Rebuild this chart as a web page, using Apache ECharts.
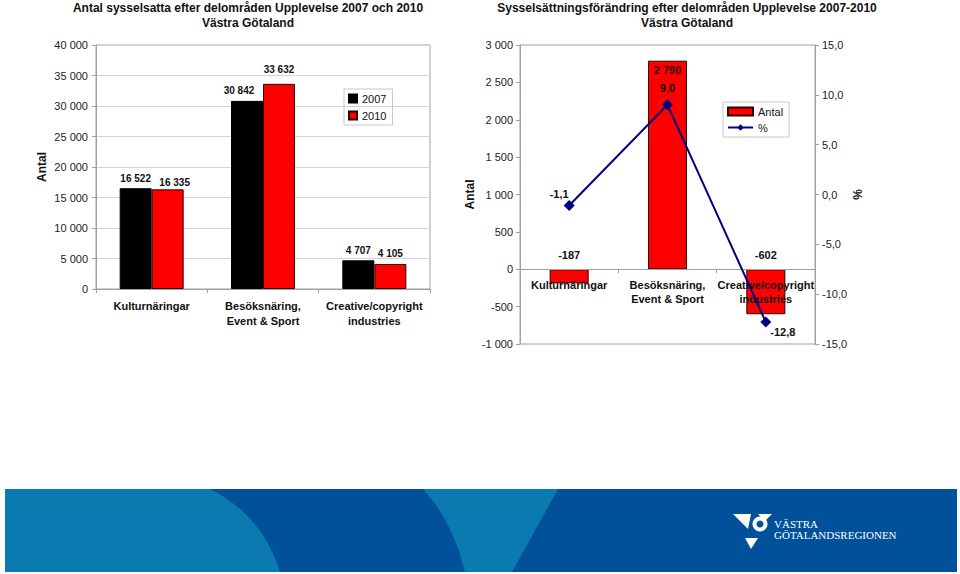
<!DOCTYPE html>
<html>
<head>
<meta charset="utf-8">
<script src="https://cdn.jsdelivr.net/npm/echarts@6/dist/echarts.min.js"></script>
<style>
html,body{margin:0;padding:0;background:#fff;}
#main{width:960px;height:574px;}
</style>
</head>
<body>
<div id="main"></div>
<script>
// ---- data ----
const categories = ['Kulturnäringar', 'Besöksnäring,\nEvent & Sport', 'Creative/copyright\nindustries'];
const employed2007 = [16522, 30842, 4707];
const employed2010 = [16335, 33632, 4105];
const changeCount = [-187, 2790, -602];
const changePct = [-1.1, 9.0, -12.8];
const leftAxis = {min: 0, max: 40000, interval: 5000};
const rightCountAxis = {min: -1000, max: 3000, interval: 500};
const rightPctAxis = {min: -15, max: 15, interval: 5};

// ---- helpers ----
const FONT = 'Liberation Sans, Arial, sans-serif';
function thou(v) { return String(v).replace(/\B(?=(\d{3})+(?!\d))/g, ' '); }
function pct(v) { return Number(v).toFixed(1).replace('.', ','); }
const tickText = {fontFamily: FONT, fontSize: 11, color: '#222'};
const catText = {fontFamily: FONT, fontSize: 11, fontWeight: 'bold', color: '#111', lineHeight: 15};

// right grid geometry; the category axis sits on the zero line of the count axis
const rightGrid = {left: 520, top: 45, width: 295, height: 299};
const zeroOffset = -rightGrid.height * (0 - rightCountAxis.min) / (rightCountAxis.max - rightCountAxis.min);

// decorative banner curve helper (quadratic bezier sampled)
function quad(p0, c, p1, n) {
  const pts = [];
  for (let i = 0; i <= n; i++) {
    const t = i / n, a = (1 - t) * (1 - t), b = 2 * (1 - t) * t, d = t * t;
    pts.push([a * p0[0] + b * c[0] + d * p1[0], a * p0[1] + b * c[1] + d * p1[1]]);
  }
  return pts;
}
const bannerLeft = [[5, 489]].concat(quad([210, 489], [262, 515], [280, 572], 20)).concat([[5, 572]]);
const bannerMid = [[558, 489], [512, 572]].concat(quad([465, 572], [452, 520], [423, 489], 20));

// label placement tweaks (layout only)
const label2007Offsets = [[0, 0], [-8, 0], [0, 0]];
const label2010Offsets = [[7, 3], [0, -4], [0, 0]];
const pctLabelCfg = [
  {position: 'top', offset: [-10, 5]},
  {position: 'top', offset: [0, -1]},
  {position: 'bottom', offset: [17, -6]}
];

const chart = echarts.init(document.getElementById('main'), null, {renderer: 'svg'});
chart.setOption({
  animation: false,
  backgroundColor: '#fff',
  title: [
    {text: 'Antal sysselsatta efter delområden Upplevelse 2007 och 2010\nVästra Götaland',
     left: 248, top: 0, textAlign: 'center', padding: 0,
     textStyle: {fontFamily: FONT, fontSize: 12, fontWeight: 'bold', color: '#111', lineHeight: 15}},
    {text: 'Sysselsättningsförändring efter delområden Upplevelse 2007-2010\nVästra Götaland',
     left: 687, top: 0, textAlign: 'center', padding: 0,
     textStyle: {fontFamily: FONT, fontSize: 12, fontWeight: 'bold', color: '#111', lineHeight: 15}}
  ],
  legend: [
    {data: ['2007', '2010'], orient: 'vertical', left: 344, top: 89,
     itemWidth: 8, itemHeight: 8, itemGap: 6, icon: 'rect',
     borderColor: '#c8c8c8', borderWidth: 1, padding: [4, 6, 4, 4],
     textStyle: {fontFamily: FONT, fontSize: 11, color: '#111'}},
    {data: [{name: 'Antal', icon: 'rect'}, {name: '%'}], orient: 'vertical', left: 723, top: 102,
     itemWidth: 25, itemHeight: 8, itemGap: 5,
     borderColor: '#c8c8c8', borderWidth: 1, padding: [4, 6, 4, 4],
     textStyle: {fontFamily: FONT, fontSize: 11, color: '#111'}}
  ],
  grid: [
    {left: 96, top: 45, width: 334, height: 244, show: true, borderColor: '#a0a0a0', borderWidth: 1, containLabel: false},
    Object.assign({show: true, borderColor: '#a0a0a0', borderWidth: 1, containLabel: false}, rightGrid)
  ],
  xAxis: [
    {type: 'category', gridIndex: 0, data: categories,
     axisLine: {lineStyle: {color: '#a0a0a0'}},
     axisTick: {show: true, length: 4, lineStyle: {color: '#a0a0a0'}},
     axisLabel: Object.assign({margin: 9, interval: 0}, catText)},
    {type: 'category', gridIndex: 1, data: categories, z: 2, position: 'bottom', offset: zeroOffset,
     axisLine: {onZero: false, lineStyle: {color: '#a0a0a0'}},
     axisTick: {show: true, length: 4, lineStyle: {color: '#a0a0a0'}},
     axisLabel: Object.assign({margin: 9, interval: 0}, catText, {lineHeight: 14})}
  ],
  yAxis: [
    {type: 'value', gridIndex: 0, min: leftAxis.min, max: leftAxis.max, interval: leftAxis.interval,
     name: 'Antal', nameLocation: 'middle', nameRotate: 90, nameGap: 48,
     nameTextStyle: {fontFamily: FONT, fontSize: 12, fontWeight: 'bold', color: '#111'},
     axisLine: {show: true, lineStyle: {color: '#a0a0a0'}},
     axisTick: {show: true, length: 4, lineStyle: {color: '#a0a0a0'}},
     splitLine: {show: true, lineStyle: {color: '#d4d4d4'}},
     axisLabel: Object.assign({margin: 8, formatter: thou}, tickText)},
    {type: 'value', gridIndex: 1, position: 'left', min: rightCountAxis.min, max: rightCountAxis.max, interval: rightCountAxis.interval,
     name: 'Antal', nameLocation: 'middle', nameRotate: 90, nameGap: 44,
     nameTextStyle: {fontFamily: FONT, fontSize: 12, fontWeight: 'bold', color: '#111'},
     axisLine: {show: true, lineStyle: {color: '#a0a0a0'}},
     axisTick: {show: true, length: 4, lineStyle: {color: '#a0a0a0'}},
     splitLine: {show: false},
     axisLabel: Object.assign({margin: 7, formatter: thou}, tickText)},
    {type: 'value', gridIndex: 1, position: 'right', min: rightPctAxis.min, max: rightPctAxis.max, interval: rightPctAxis.interval,
     name: '%', nameLocation: 'middle', nameRotate: 90, nameGap: 37,
     nameTextStyle: {fontFamily: FONT, fontSize: 12, fontWeight: 'bold', color: '#111'},
     axisLine: {show: true, lineStyle: {color: '#a0a0a0'}},
     axisTick: {show: true, length: 4, lineStyle: {color: '#a0a0a0'}},
     splitLine: {show: false},
     axisLabel: Object.assign({margin: 7, formatter: pct}, tickText)}
  ],
  series: [
    {name: '2007', type: 'bar', xAxisIndex: 0, yAxisIndex: 0,
     data: employed2007.map((v, i) => ({value: v, label: {offset: label2007Offsets[i]}})),
     barWidth: 32, barGap: '0%',
     itemStyle: {color: '#000000', borderColor: '#000', borderWidth: 1},
     label: {show: true, position: 'top', formatter: p => thou(p.value),
             fontFamily: FONT, fontSize: 10, fontWeight: 'bold', color: '#111'}},
    {name: '2010', type: 'bar', xAxisIndex: 0, yAxisIndex: 0,
     data: employed2010.map((v, i) => ({value: v, label: {offset: label2010Offsets[i]}})),
     barWidth: 32, barGap: '0%',
     itemStyle: {color: '#ff0000', borderColor: '#300000', borderWidth: 1},
     label: {show: true, position: 'top', formatter: p => thou(p.value),
             fontFamily: FONT, fontSize: 10, fontWeight: 'bold', color: '#111'}},
    {name: 'Antal', type: 'bar', xAxisIndex: 1, yAxisIndex: 1, z: 1,
     data: changeCount.map(v => ({value: v,
        label: v < 0 ? {position: 'top', distance: 9, color: '#111'} : {position: 'insideTop', distance: 4, color: '#300'}})),
     barWidth: 39,
     itemStyle: {color: '#ff0000', borderColor: '#300000', borderWidth: 1},
     label: {show: true, formatter: p => thou(p.value),
             fontFamily: FONT, fontSize: 11, fontWeight: 'bold'}},
    {name: '%', type: 'line', xAxisIndex: 1, yAxisIndex: 2, z: 5,
     data: changePct.map((v, i) => ({value: v, label: pctLabelCfg[i]})),
     symbol: 'diamond', symbolSize: 11,
     lineStyle: {color: '#000080', width: 2},
     itemStyle: {color: '#000080'},
     label: {show: true, formatter: p => pct(p.value),
             fontFamily: FONT, fontSize: 11, fontWeight: 'bold', color: '#111'}}
  ],
  graphic: [
    {type: 'rect', z: 0, shape: {x: 5, y: 489, width: 952, height: 83}, style: {fill: '#00519a'}, silent: true},
    {type: 'polygon', z: 1, shape: {points: bannerLeft}, style: {fill: '#0a7ab0'}, silent: true},
    {type: 'polygon', z: 1, shape: {points: bannerMid}, style: {fill: '#0a7ab0'}, silent: true},
    {type: 'polygon', z: 2, shape: {points: [[733, 514], [751, 514], [748, 529]]}, style: {fill: '#fff'}, silent: true},
    {type: 'ring', z: 2, shape: {cx: 760, cy: 524, r: 7.5, r0: 3.5}, style: {fill: '#fff'}, silent: true},
    {type: 'polygon', z: 2, shape: {points: [[758, 514], [772, 514], [765, 521]]}, style: {fill: '#fff'}, silent: true},
    {type: 'polygon', z: 2, shape: {points: [[745, 538], [758, 538], [751, 549]]}, style: {fill: '#fff'}, silent: true},
    {type: 'text', z: 2, left: 774, top: 518, style: {text: 'VÄSTRA\nGÖTALANDSREGIONEN', fill: '#fff', lineHeight: 11, font: '11px "Liberation Serif", serif'}, silent: true}
  ]
});
</script>
</body>
</html>
